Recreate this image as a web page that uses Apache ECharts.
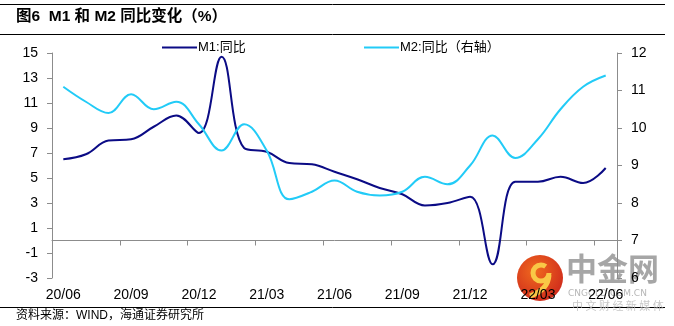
<!DOCTYPE html>
<html>
<head>
<meta charset="utf-8">
<script src="https://cdn.jsdelivr.net/npm/echarts@6/dist/echarts.min.js"></script>
<style>
  html, body { margin: 0; padding: 0; background: #ffffff; }
  #chart { width: 674px; height: 326px; }
</style>
</head>
<body>
<div id="chart"></div>
<script>
// Months from 2020/06 to 2022/06
const months = [
  '20/06', '20/07', '20/08', '20/09', '20/10', '20/11', '20/12',
  '21/01', '21/02', '21/03', '21/04', '21/05', '21/06', '21/07',
  '21/08', '21/09', '21/10', '21/11', '21/12', '22/01', '22/02',
  '22/03', '22/04', '22/05', '22/06'
];

// M1 year-on-year growth (%), left axis
const m1Yoy = [
  6.5, 6.9, 8.0, 8.1, 9.1, 10.0, 8.6,
  14.7, 7.4, 7.1, 6.2, 6.1, 5.5, 4.9,
  4.2, 3.7, 2.8, 3.0, 3.5, -1.9, 4.7,
  4.7, 5.1, 4.6, 5.8
];

// M2 year-on-year growth (%), right axis
const m2Yoy = [
  11.1, 10.7, 10.4, 10.9, 10.5, 10.7, 10.1,
  9.4, 10.1, 9.4, 8.1, 8.3, 8.6, 8.3,
  8.2, 8.3, 8.7, 8.5, 9.0, 9.8, 9.2,
  9.7, 10.5, 11.1, 11.4
];

const seriesNames = ['M1:同比', 'M2:同比（右轴）'];
const titleText = '图6  M1 和 M2 同比变化（%）';
const sourceText = '资料来源：WIND，海通证券研究所';

const axisGray = '#8c8c8c';
const labelFont = { color: '#000', fontSize: 14, fontFamily: 'Liberation Sans, Arial, sans-serif' };
const cjkFont = 'Liberation Sans, "Noto Sans CJK SC", sans-serif';

const chart = echarts.init(document.getElementById('chart'), null, { renderer: 'canvas' });

chart.setOption({
  backgroundColor: '#ffffff',
  animation: false,
  grid: { left: 52, right: 57, top: 53, bottom: 48, containLabel: false },
  legend: [
    {
      data: [seriesNames[0]], left: 157, top: 36,
      icon: 'rect', itemWidth: 35, itemHeight: 2, itemGap: 0,
      textStyle: { color: '#000', fontSize: 13, fontFamily: cjkFont, padding: [0, 0, 0, -4] }
    },
    {
      data: [seriesNames[1]], left: 359, top: 36,
      icon: 'rect', itemWidth: 35, itemHeight: 2, itemGap: 0,
      textStyle: { color: '#000', fontSize: 13, fontFamily: cjkFont, padding: [0, 0, 0, -4] }
    }
  ],
  xAxis: [
    {
      // label axis along the bottom of the plot
      type: 'category', data: months, position: 'bottom', boundaryGap: true,
      axisLine: { show: false, onZero: false }, axisTick: { show: false },
      axisLabel: Object.assign({ interval: 2, margin: 10 }, labelFont),
      splitLine: { show: false }
    },
    {
      // zero line with tick marks
      type: 'category', data: months, position: 'bottom', boundaryGap: true,
      axisLine: { show: true, onZero: true, onZeroAxisIndex: 0, lineStyle: { color: axisGray, width: 1 } },
      axisTick: { show: true, interval: 2, length: 5, lineStyle: { color: axisGray } },
      axisLabel: { show: false }, splitLine: { show: false }
    }
  ],
  yAxis: [
    {
      type: 'value', position: 'left', min: -3, max: 15, interval: 2,
      axisLine: { show: true, onZero: false, lineStyle: { color: axisGray } },
      axisTick: { show: true, length: 5, lineStyle: { color: axisGray } },
      axisLabel: Object.assign({ margin: 14 }, labelFont),
      splitLine: { show: false }
    },
    {
      type: 'value', position: 'right', min: 6, max: 12, interval: 1,
      axisLine: { show: true, onZero: false, lineStyle: { color: axisGray } },
      axisTick: { show: true, length: 5, lineStyle: { color: axisGray } },
      axisLabel: Object.assign({ margin: 14 }, labelFont),
      splitLine: { show: false }
    }
  ],
  series: [
    {
      name: seriesNames[0], type: 'line', data: m1Yoy,
      xAxisIndex: 0, yAxisIndex: 0, smooth: 0.4, showSymbol: false, symbol: 'none',
      color: '#0b0b85', lineStyle: { color: '#0b0b85', width: 2 }
    },
    {
      name: seriesNames[1], type: 'line', data: m2Yoy,
      xAxisIndex: 0, yAxisIndex: 1, smooth: 0.4, showSymbol: false, symbol: 'none',
      color: '#22cbf7', lineStyle: { color: '#22cbf7', width: 2 }
    }
  ],
  graphic: [
    // title band
    { type: 'line', shape: { x1: 0, y1: 4.5, x2: 665, y2: 4.5 }, style: { stroke: '#000', lineWidth: 1 } },
    { type: 'line', shape: { x1: 0, y1: 34.5, x2: 665, y2: 34.5 }, style: { stroke: '#000', lineWidth: 1 } },
    {
      type: 'text', left: 16, top: 9,
      style: { text: titleText, fill: '#000', font: 'bold 15.5px ' + cjkFont }
    },
    // source note
    { type: 'line', shape: { x1: 0, y1: 307.5, x2: 665, y2: 307.5 }, style: { stroke: '#000', lineWidth: 1 } },
    {
      type: 'text', left: 16, top: 310,
      style: { text: sourceText, fill: '#000', font: '12px ' + cjkFont }
    },
    // site watermark
    {
      type: 'group', z: 100,
      children: [
        {
          type: 'circle', shape: { cx: 540, cy: 278, r: 23 },
          style: {
            fill: {
              type: 'radial', x: 0.4, y: 0.35, r: 0.7,
              colorStops: [{ offset: 0, color: '#f06a1e' }, { offset: 1, color: '#cf2a1c' }]
            }
          }
        },
        {
          type: 'arc', shape: { cx: 541, cy: 273, r: 8, startAngle: 0, endAngle: Math.PI * 1.7 },
          style: { stroke: '#f9c846', lineWidth: 5, fill: null }
        },
        {
          type: 'bezierCurve', shape: { x1: 549, y1: 275, x2: 530, y2: 296, cpx1: 548, cpy1: 290 },
          style: { stroke: '#f9c846', lineWidth: 5, fill: null }
        },
        {
          type: 'text', left: 566, top: 253,
          style: { text: '中金网', fill: 'rgba(150,150,150,0.85)', font: 'bold 31px "Noto Sans CJK SC", sans-serif' }
        },
        {
          type: 'text', left: 568, top: 289,
          style: { text: 'CNGOLD.COM.CN', fill: 'rgba(170,170,170,0.85)', font: '9px "DejaVu Sans", sans-serif' }
        },
        {
          type: 'text', left: 572, top: 300,
          style: { text: '中 文 财 经 新 媒 体', fill: 'rgba(190,190,190,0.85)', font: '11px "Noto Sans CJK SC", sans-serif' }
        }
      ]
    }
  ]
});
</script>
</body>
</html>
